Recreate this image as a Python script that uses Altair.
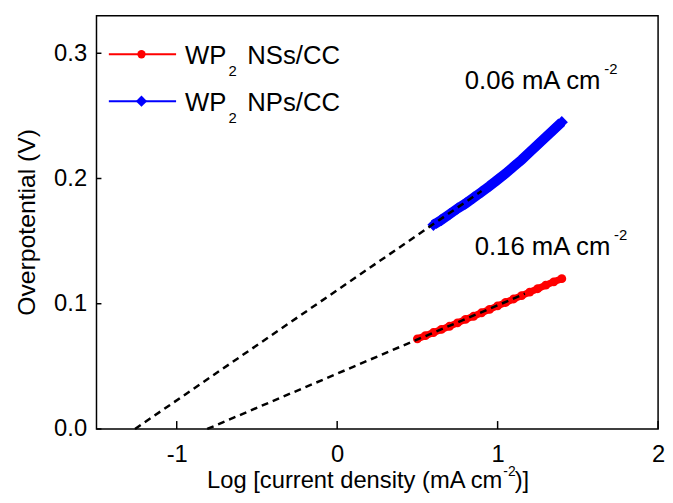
import altair as alt
import pandas as pd

# ---------------- data ----------------
ns_x = [0.50, 0.55, 0.60, 0.65, 0.70, 0.75, 0.80, 0.85, 0.90, 0.95,
        1.00, 1.05, 1.10, 1.15, 1.20, 1.25, 1.30, 1.35, 1.40]
ns_y = [0.0720, 0.0745, 0.0770, 0.0795, 0.0820, 0.0847, 0.0875, 0.0900, 0.0928, 0.0955,
        0.0983, 0.1010, 0.1038, 0.1065, 0.1093, 0.1120, 0.1148, 0.1175, 0.1200]

np_x = [0.60, 0.65, 0.70, 0.75, 0.80, 0.85, 0.90, 0.95, 1.00,
        1.05, 1.10, 1.15, 1.20, 1.25, 1.30, 1.35, 1.40]
np_y = [0.1630, 0.1670, 0.1715, 0.1760, 0.1800, 0.1847, 0.1893, 0.1940, 0.1990,
        0.2040, 0.2095, 0.2150, 0.2210, 0.2270, 0.2330, 0.2390, 0.2450]

fit_ns_x = [-0.81, 1.17]
fit_ns_y = [0.0, 0.108]
fit_np_x = [-1.26, 0.90]
fit_np_y = [0.0, 0.190]

x_ticks = [-1, 0, 1, 2]
y_ticks = [0.0, 0.1, 0.2, 0.3]

legend_main = ["WP", "WP"]
legend_rest = ["NSs/CC", "NPs/CC"]
annot_main = ["0.06 mA cm", "0.16 mA cm"]
sup_text = "-2"
x_title_main = "Log [current density (mA cm"
x_title_end = ")]"
y_title = "Overpotential (V)"

RED = "#FF0000"
BLUE = "#0000FF"
FONT = "Liberation Sans"
W, H = 568, 418

xs = alt.Scale(domain=[-1.5, 2], nice=False, zero=False)
ys = alt.Scale(domain=[0, 0.33], nice=False, zero=False)

ns = pd.DataFrame({"x": ns_x, "y": ns_y})
npd = pd.DataFrame({"x": np_x, "y": np_y})
fit_ns = pd.DataFrame({"x": fit_ns_x, "y": fit_ns_y})
fit_np = pd.DataFrame({"x": fit_np_x, "y": fit_np_y})

X_AX = alt.Axis(values=x_ticks, labelExpr="'' + datum.value", title=None, domain=False,
                ticks=False, tickSize=0, labelPadding=14, labelFontSize=24, labelFont=FONT,
                labelColor="black", labelFlush=False, grid=False)
Y_AX = alt.Axis(values=y_ticks, format=".1f", title=None, domain=False, ticks=False,
                tickSize=0, labelPadding=10, labelFontSize=24, labelFont=FONT,
                labelColor="black", grid=False)


def X(f="x"):
    return alt.X(f + ":Q", scale=xs, axis=X_AX)


def Y(f="y"):
    return alt.Y(f + ":Q", scale=ys, axis=Y_AX)


# data series
ns_line = alt.Chart(ns).mark_line(color=RED, strokeWidth=7, strokeCap="round").encode(x=X(), y=Y())
ns_pts = alt.Chart(ns).mark_point(shape="circle", filled=True, color=RED, size=80, opacity=1).encode(x=X(), y=Y())
np_line = alt.Chart(npd).mark_line(color=BLUE, strokeWidth=10).encode(x=X(), y=Y())
np_pts = alt.Chart(npd).mark_point(shape="diamond", filled=True, color=BLUE, size=150, opacity=1).encode(x=X(), y=Y())

dash_ns = alt.Chart(fit_ns).mark_line(color="black", strokeWidth=2.5, strokeDash=[7, 5]).encode(x=X(), y=Y())
dash_np = alt.Chart(fit_np).mark_line(color="black", strokeWidth=2.5, strokeDash=[7, 5]).encode(x=X(), y=Y())

# inward ticks
xt = alt.Chart(pd.DataFrame({"x": x_ticks})).mark_rule(color="black", strokeWidth=1.5).encode(
    x=X(), y=alt.value(H), y2=alt.value(H - 8))
yt = alt.Chart(pd.DataFrame({"y": y_ticks})).mark_rule(color="black", strokeWidth=1.5).encode(
    y=Y(), x=alt.value(0), x2=alt.value(5))


def txt(text, x, y, size=26, align="left", baseline="alphabetic", angle=0):
    return alt.Chart(pd.DataFrame({"t": [text]})).mark_text(
        font=FONT, fontSize=size, color="black", align=align, baseline=baseline, angle=angle
    ).encode(text="t:N", x=alt.value(x), y=alt.value(y))


layers = [ns_line, ns_pts, np_line, np_pts, dash_ns, dash_np, xt, yt]

# legend
leg_y = [39, 86.5]
leg_col = [RED, BLUE]
leg_shape = ["circle", "diamond"]
leg_size = [70, 130]
for i in range(2):
    layers.append(alt.Chart(pd.DataFrame({"a": [0]})).mark_rule(color=leg_col[i], strokeWidth=2).encode(
        x=alt.value(12.5), x2=alt.value(80.5), y=alt.value(leg_y[i])))
    layers.append(alt.Chart(pd.DataFrame({"a": [0]})).mark_point(
        shape=leg_shape[i], filled=True, color=leg_col[i], size=leg_size[i], opacity=1).encode(
        x=alt.value(45.5), y=alt.value(leg_y[i])))
    base = leg_y[i] + 10
    layers.append(txt(legend_main[i], 89.5, base))
    layers.append(txt("2", 133.5, base + 12, size=15))
    layers.append(txt(legend_rest[i], 152.5, base))

# annotations
ann_x = [372.5, 382.5]
ann_base = [74, 242]
for i in range(2):
    layers.append(txt(annot_main[i], ann_x[i], ann_base[i]))
    layers.append(txt(sup_text, ann_x[i] + 141, ann_base[i] - 15, size=15))

# axis titles
layers.append(txt(x_title_main, 410.5, 478, size=24, align="right"))
layers.append(txt(sup_text, 411.5, 466, size=14))
layers.append(txt(x_title_end, 423, 478, size=24))
layers.append(txt(y_title, -70.5, 209, size=25, align="center", baseline="middle", angle=270))

chart = alt.layer(*layers).properties(
    width=W, height=H,
    autosize=alt.AutoSizeParams(type="none"),
    padding={"left": 89.5, "top": 5, "right": 7, "bottom": 64},
    background="white",
).configure_view(stroke="black", strokeWidth=1.5)

chart.save("out.html", embed_options={"renderer": "svg", "actions": False})
